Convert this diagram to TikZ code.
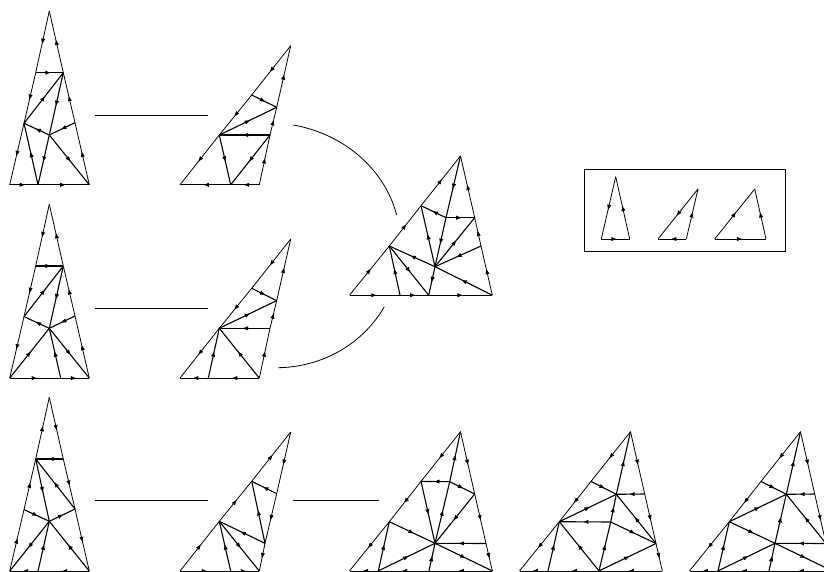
\documentclass[tikz,border=0pt]{standalone}
\usepackage{tikz}
\usetikzlibrary{
  arrows.meta,
  decorations.markings
}
\tikzset{
  arrowedge/.style={
    postaction={decorate},
    decoration={markings, mark=at position 0.53 with {\arrow{Triangle[length=5pt,width=3.8pt]}}}
  },
  outeredge/.style={arrowedge, line width=0.8pt},
  inneredge/.style={arrowedge, line width=1.1pt},
  linkline/.style={line width=0.8pt},
  legendbox/.style={line width=0.8pt}
}
% corners and edge points of the three shapes
\newcommand{\tallpoints}{
  \coordinate (tip) at (49.3,11);
  \coordinate (lft) at (9.7,184.8);
  \coordinate (rgt) at (89.3,184.8);
  \coordinate (la) at (35.7,72.7);
  \coordinate (ra) at (63.3,72.7);
  \coordinate (lc) at (24,123.3);
  \coordinate (rd) at (75,122.7);
  \coordinate (mid) at (49.3,135);
  \coordinate (bot) at (38,184.8);
  \coordinate (bas) at (60.7,184.8);
}
\newcommand{\slimpoints}{
  \coordinate (tip) at (290.7,45.7);
  \coordinate (lft) at (180,184.8);
  \coordinate (rgt) at (259.3,184.8);
  \coordinate (hg) at (251.7,95);
  \coordinate (hc) at (219.3,135);
  \coordinate (rh) at (276.7,107.3);
  \coordinate (ri) at (270,135);
  \coordinate (rj) at (265,157);
  \coordinate (bf) at (230.7,184.8);
  \coordinate (bk) at (208.3,184.8);
}
\newcommand{\widepoints}{
  \coordinate (tip) at (460.5,156);
  \coordinate (lft) at (349.5,295.2);
  \coordinate (rgt) at (492.3,295.2);
  \coordinate (hd) at (389.3,246);
  \coordinate (he) at (421,205.7);
}
\newcommand{\drawtile}[2]{
  \foreach \u/\v in {#1} \draw[outeredge] (\u) -- (\v);
  \foreach \u/\v in {#2} \draw[inneredge] (\u) -- (\v);
}
\begin{document}
\begin{tikzpicture}[x=1pt,y=-1pt]
  \useasboundingbox (0,0) rectangle (824,572);

  % left column
  \tallpoints
  \drawtile{tip/la,la/lc,lc/lft,lft/bot,bot/rgt,rgt/rd,rd/ra,ra/tip}
    {la/ra,lc/ra,ra/mid,mid/lc,rd/mid,mid/rgt,mid/bot,bot/lc}
  \begin{scope}[shift={(0,193.3)}]
    \tallpoints
    \drawtile{tip/la,la/lc,lc/lft,lft/bas,bas/rgt,rgt/rd,rd/ra,ra/tip}
      {la/ra,lc/ra,ra/mid,mid/lc,rd/mid,mid/rgt,lft/mid,bas/mid}
  \end{scope}
  \begin{scope}[shift={(0,386.3)}]
    \tallpoints
    \drawtile{lft/lc,lc/la,la/tip,tip/ra,ra/rd,rd/rgt,rgt/bot,bot/lft}
      {ra/la,rd/la,la/mid,mid/rd,lc/mid,mid/lft,bot/mid,rgt/mid}
  \end{scope}

  % second column
  \slimpoints
  \drawtile{tip/hg,hg/hc,hc/lft,rgt/bf,bf/lft,rgt/ri,ri/rh,rh/tip}
    {hg/rh,hc/rh,ri/hc,hc/bf,ri/bf}
  \begin{scope}[shift={(0,193.3)}]
    \slimpoints
    \drawtile{tip/hg,hg/hc,hc/lft,rgt/bk,bk/lft,rgt/ri,ri/rh,rh/tip}
      {hg/rh,hc/rh,ri/hc,rgt/hc,bk/hc}
  \end{scope}
  \begin{scope}[shift={(0,386.3)}]
    \slimpoints
    \drawtile{lft/hc,hc/hg,hg/tip,tip/rh,rh/rj,rj/rgt,lft/bf,bf/rgt}
      {rh/hg,rj/hg,rj/hc,hc/rgt,bf/hc}
  \end{scope}

  % merged shape in the middle
  \widepoints
  \coordinate (p3) at (446,217.7);
  \coordinate (p4) at (474.7,217.7);
  \coordinate (p5) at (481,246);
  \coordinate (mid) at (435,266.7);
  \coordinate (p7) at (400,295.2);
  \coordinate (p8) at (428.7,295.2);
  \drawtile{lft/hd,hd/he,he/tip,rgt/p5,p5/p4,p4/tip,lft/p7,p7/p8,p8/rgt}
    {tip/p3,p3/p4,p3/he,p3/mid,mid/he,mid/p4,p5/mid,rgt/mid,mid/hd,hd/p8,mid/p8,p7/hd}

  % bottom row
  \begin{scope}[shift={(0,275.7)}]
    \widepoints
    \coordinate (p3) at (449.7,206);
    \coordinate (p4) at (474.7,218.3);
    \coordinate (p5) at (486,267.8);
    \coordinate (mid) at (435,267.6);
    \coordinate (p7) at (378.3,295.2);
    \coordinate (p8) at (429,295.2);
    \drawtile{tip/he,he/hd,hd/lft,tip/p4,p4/p5,p5/rgt,rgt/p8,p8/p7,p7/lft}
      {p3/he,p3/tip,p3/p4,he/mid,mid/p3,p4/mid,p5/mid,mid/rgt,p8/mid,p7/mid,p7/hd,hd/mid}
  \end{scope}
  \begin{scope}[shift={(170,275.7)}]
    \widepoints
    \coordinate (p3) at (446.3,218.6);
    \coordinate (p4) at (474.7,218.3);
    \coordinate (p5) at (486,267.8);
    \coordinate (mid) at (440.7,246.3);
    \coordinate (p7) at (378,295.2);
    \coordinate (p8) at (429,295.2);
    \drawtile{tip/he,he/hd,hd/lft,tip/p4,p4/p5,p5/rgt,rgt/p8,p8/p7,p7/lft}
      {he/p3,p3/tip,p4/p3,hd/p3,mid/p3,mid/hd,p5/p3,mid/p5,p8/mid,p8/p5,p8/hd,p7/hd}
  \end{scope}
  \begin{scope}[shift={(340,275.7)}]
    \widepoints
    \coordinate (p3) at (446.3,218.6);
    \coordinate (p4) at (474.7,218.3);
    \coordinate (p5) at (486,267.8);
    \coordinate (mid) at (435,267.6);
    \coordinate (p7) at (378,295.2);
    \coordinate (p8) at (429,295.2);
    \drawtile{tip/he,he/hd,hd/lft,tip/p4,p4/p5,p5/rgt,rgt/p8,p8/p7,p7/lft}
      {he/p3,p3/tip,p4/p3,hd/p3,hd/mid,mid/p3,p5/p3,p5/mid,mid/rgt,p8/mid,p7/mid,p7/hd}
  \end{scope}

  % legend
  \draw[legendbox] (584.3,169.3) rectangle (785.7,251);
  \coordinate (ta) at (615.7,176.7);
  \coordinate (tb) at (601.3,239);
  \coordinate (tc) at (629.7,239);
  \coordinate (sa) at (698,189);
  \coordinate (sb) at (658,239);
  \coordinate (sc) at (686.3,239);
  \coordinate (wa) at (754.7,189);
  \coordinate (wb) at (714.7,239);
  \coordinate (wc) at (766,239);
  \drawtile{ta/tb,tb/tc,tc/ta,sa/sb,sc/sb,sc/sa,wb/wa,wb/wc,wc/wa}{}

  % links
  \coordinate (linka) at (94.5,115.5);
  \coordinate (linkb) at (208.3,115.5);
  \coordinate (linkc) at (94.5,308);
  \coordinate (linkd) at (208.3,308);
  \coordinate (linke) at (94.5,500.5);
  \coordinate (linkf) at (208.3,500.5);
  \coordinate (linkg) at (293.3,500.5);
  \coordinate (linkh) at (378.5,500.5);
  \coordinate (arca) at (293.3,125);
  \coordinate (arcb) at (396.7,215);
  \coordinate (arcc) at (278.3,367.7);
  \coordinate (arcd) at (384.3,306.7);
  \draw[linkline] (linka) -- (linkb);
  \draw[linkline] (linkc) -- (linkd);
  \draw[linkline] (linke) -- (linkf);
  \draw[linkline] (linkg) -- (linkh);
  \draw[linkline] (arca) .. controls (342,133.6) and (383.9,167.1) .. (arcb);
  \draw[linkline] (arcc) .. controls (322,367) and (362.5,344.5) .. (arcd);
\end{tikzpicture}
\end{document}
